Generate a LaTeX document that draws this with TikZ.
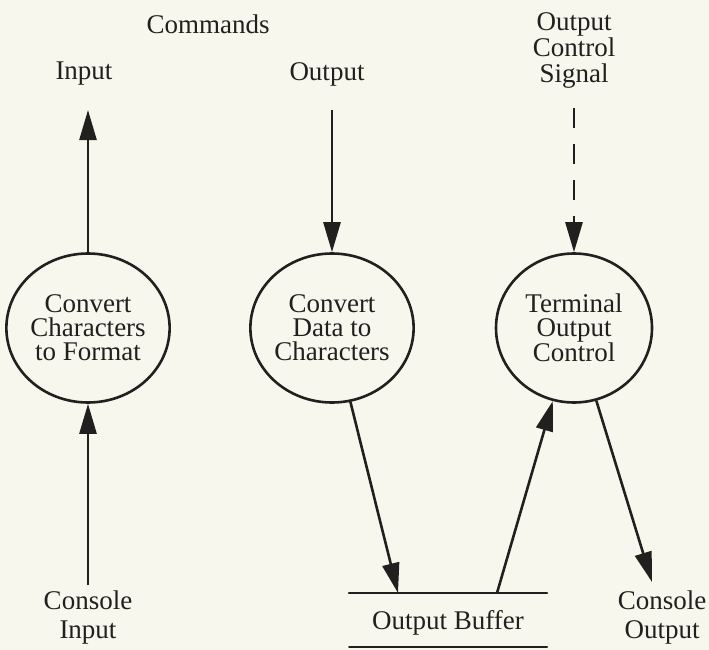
\documentclass[tikz,border=0pt]{standalone}
\usepackage{fontspec}
\setmainfont{Liberation Serif}
\usetikzlibrary{arrows.meta,shapes.geometric}
\definecolor{bg}{RGB}{247,247,238}
\definecolor{ink}{RGB}{34,32,30}
\begin{document}
\begin{tikzpicture}[x=1pt,y=-1pt,
  proc/.style={ellipse,draw=ink,line width=2.6pt,minimum width=156pt,minimum height=149pt,inner sep=0pt,align=center,text=ink,font=\fontsize{27}{24}\selectfont},
  lbl/.style={align=center,text=ink,inner sep=0pt,font=\fontsize{27}{29}\selectfont},
  lbltop/.style={align=center,text=ink,inner sep=0pt,font=\fontsize{27}{26}\selectfont},
  arr/.style={draw=ink,line width=2.6pt,-{Triangle[length=30pt,width=17pt]}},
  bufline/.style={draw=ink,line width=2.6pt,line cap=round}]
\fill[bg] (0,0) rectangle (709,650);
\useasboundingbox (0,0) rectangle (709,650);
% processes
\node[proc] (c1) at (88,328) {Convert\\Characters\\to Format};
\node[proc] (c2) at (332,328) {Convert\\Data to\\Characters};
\node[proc] (c3) at (574,328) {Terminal\\Output\\Control};
% labels
\node[lbl] (cmd) at (208,24) {Commands};
\node[lbl] (inl) at (84,74) {Input};
\node[lbl] (outl) at (327,74) {Output};
\node[lbltop] (ocs) at (574,50) {Output\\Control\\Signal};
\node[lbl] (ci) at (88,617) {Console\\Input};
\node[lbl] (co) at (662,617) {Console\\Output};
\node[lbl] (ob) at (448,623) {Output Buffer};
% coordinates
\coordinate (inTop) at (88,110);
\coordinate (outTop) at (332,110);
\coordinate (ocsTop) at (574,108);
\coordinate (ciBot) at (88,585);
\coordinate (bL) at (349,593);
\coordinate (bR) at (547,593);
\coordinate (bL2) at (349,647);
\coordinate (bR2) at (547,647);
\coordinate (bIn) at (398,593);
\coordinate (bOut) at (497,593);
\coordinate (coTip) at (652,582);
% buffer lines
\draw[bufline] (bL) -- (bR);
\draw[bufline,line width=2pt] (bL2) -- (bR2);
% flows
\draw[arr] (c1.north) -- (inTop);
\draw[arr] (outTop) -- (c2.north);
\draw[arr,dash pattern=on 20pt off 16pt] (ocsTop) -- (c3.north);
\draw[arr] (ciBot) -- (c1.south);
\draw[arr] (c2) -- (bIn);
\draw[arr] (bOut) -- (c3);
\draw[arr] (c3) -- (coTip);
\end{tikzpicture}
\end{document}
